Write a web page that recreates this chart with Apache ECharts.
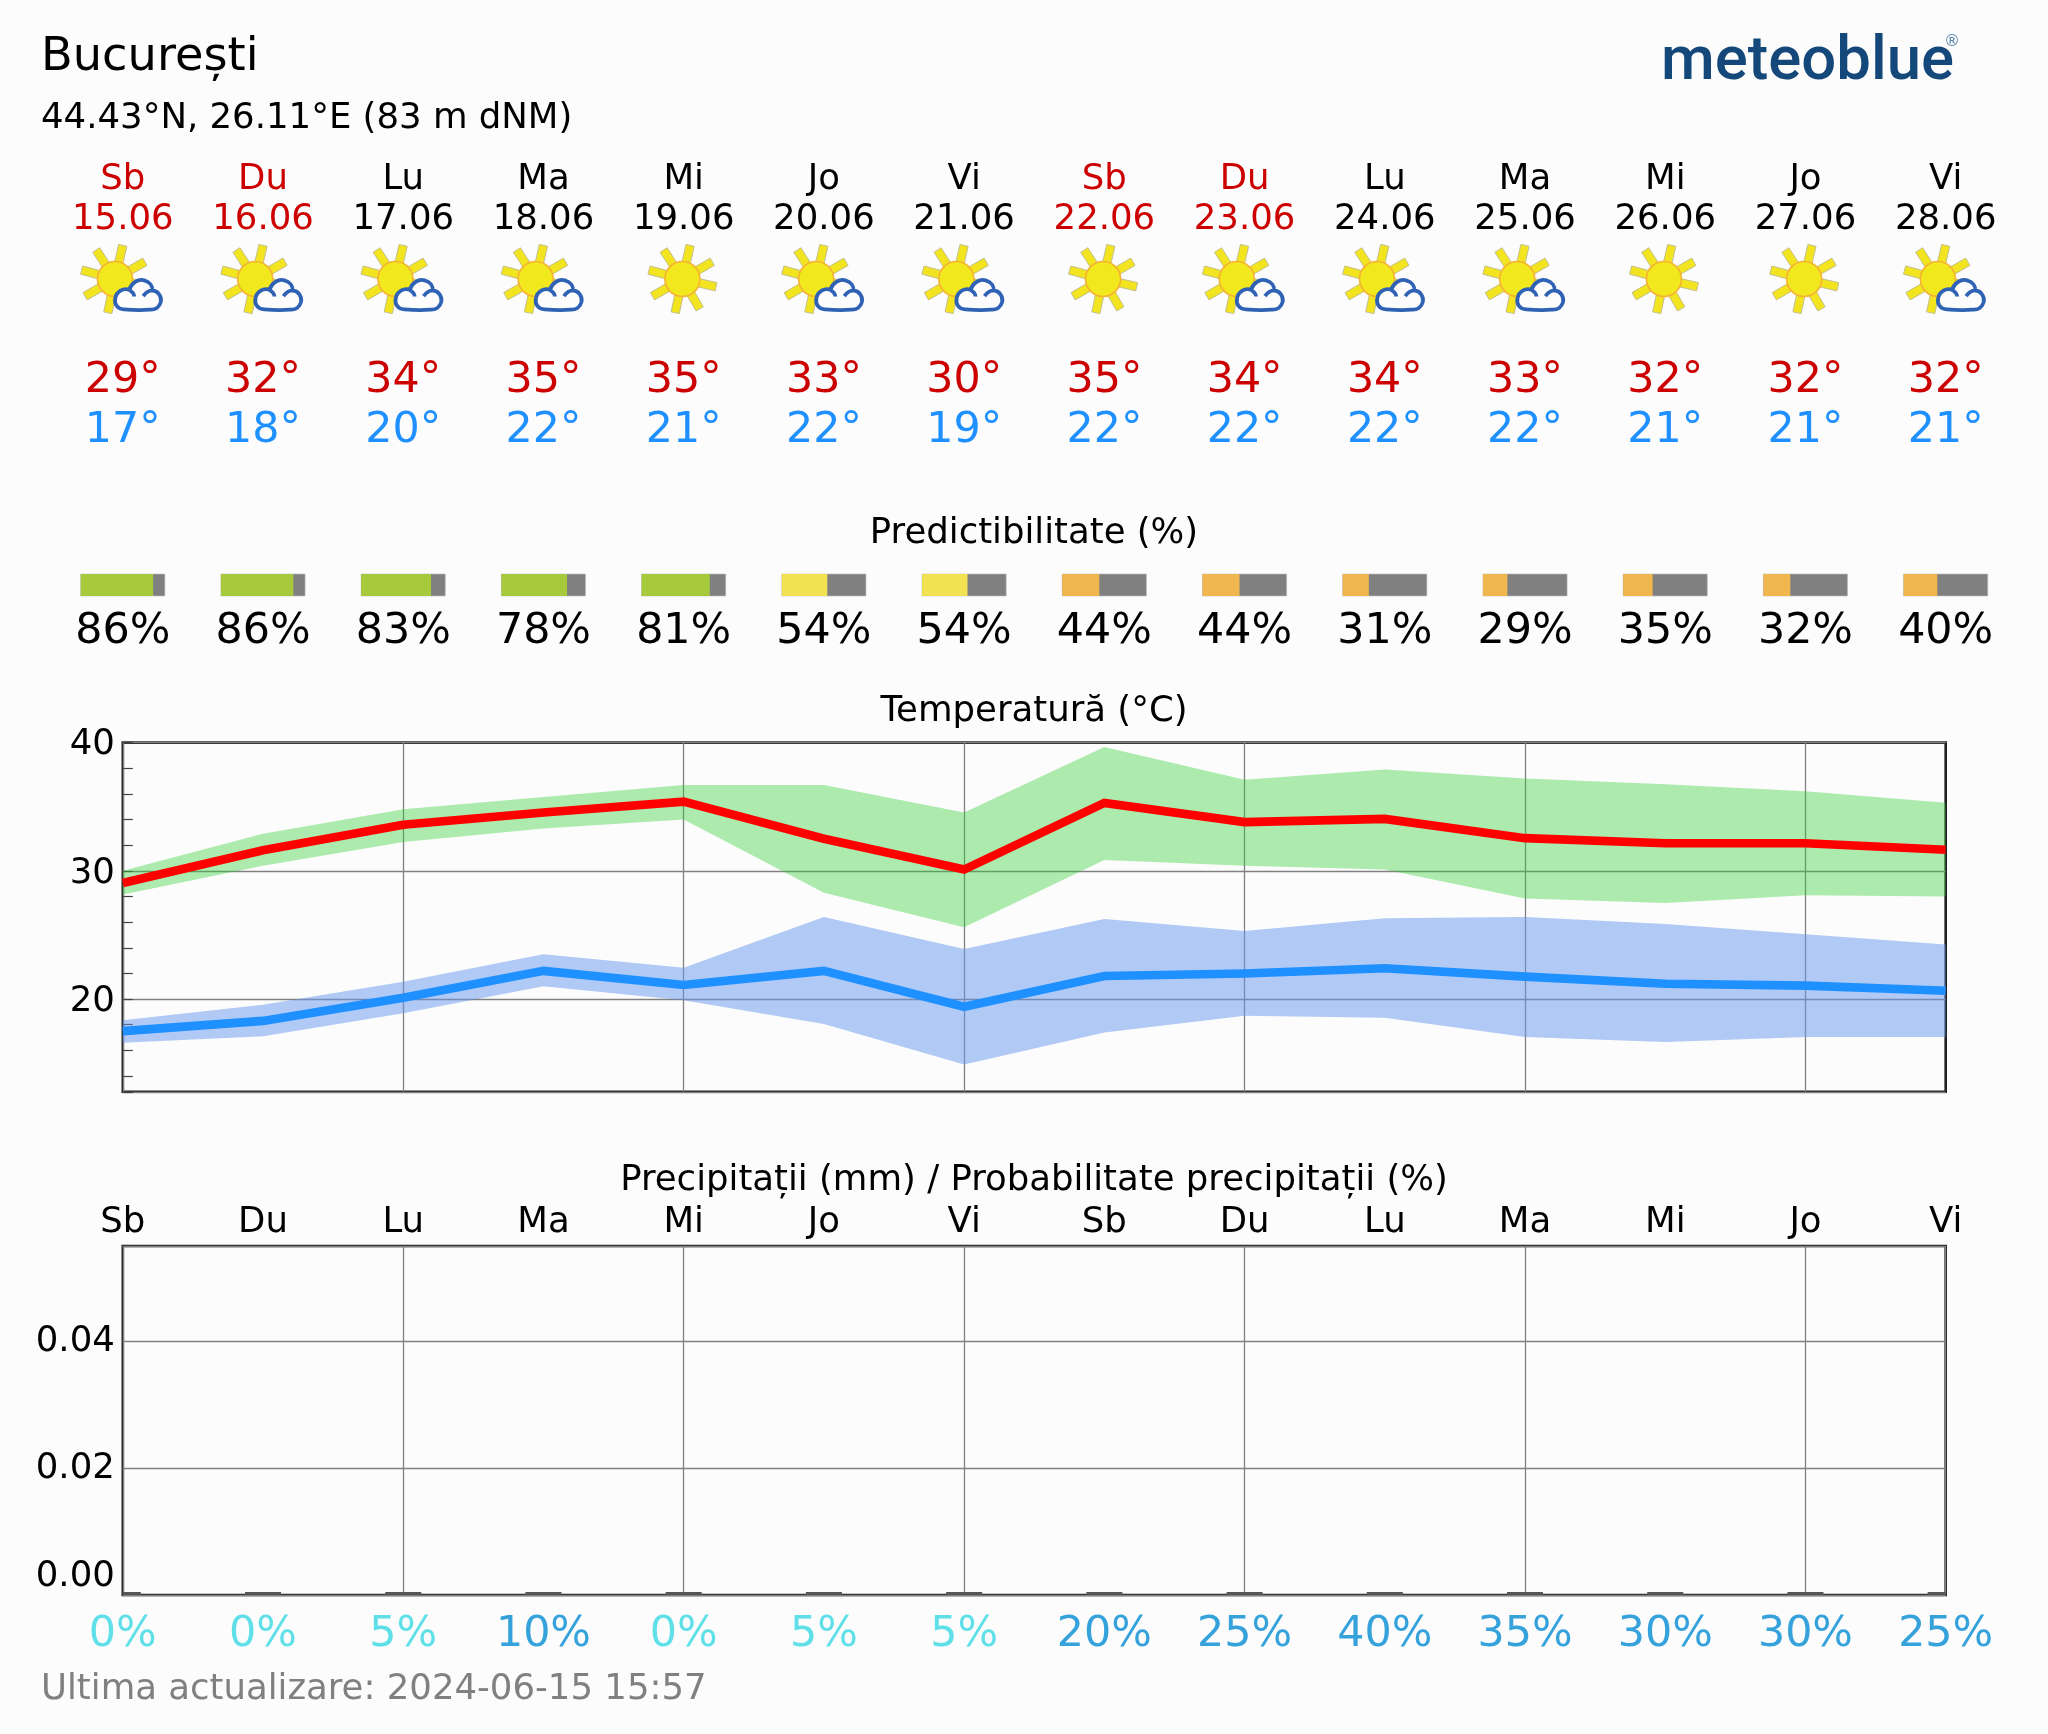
<!DOCTYPE html>
<html><head><meta charset="utf-8">
<style>html,body{margin:0;padding:0;background:#fcfcfc}#c{width:2048px;height:1734px}</style>
<script src="https://cdn.jsdelivr.net/npm/echarts@6/dist/echarts.min.js"></script>
</head><body><div id="c"></div>
<script>
// ---- data ----
const dayNames = ['Sb','Du','Lu','Ma','Mi','Jo','Vi','Sb','Du','Lu','Ma','Mi','Jo','Vi'];
const dates = ['15.06','16.06','17.06','18.06','19.06','20.06','21.06','22.06','23.06','24.06','25.06','26.06','27.06','28.06'];
const highs = [29,32,34,35,35,33,30,35,34,34,33,32,32,32];
const lows = [17,18,20,22,21,22,19,22,22,22,22,21,21,21];
const iconKinds = ['cloud','cloud','cloud','cloud','sun','cloud','cloud','sun','cloud','cloud','cloud','sun','sun','cloud'];
const predictability = [86,86,83,78,81,54,54,44,44,31,29,35,32,40];
const precipProb = [0,0,5,10,0,5,5,20,25,40,35,30,30,25];
const precip = [0,0,0,0,0,0,0,0,0,0,0,0,0,0];
const tMax = [29.05,31.6,33.6,34.55,35.4,32.5,30.1,35.3,33.8,34.05,32.55,32.15,32.15,31.65];
const tMaxUpper = [30.0,32.9,34.8,35.75,36.7,36.7,34.55,39.65,37.1,37.9,37.2,36.75,36.2,35.3];
const tMaxLower = [28.15,30.4,32.25,33.3,34.0,28.3,25.6,30.85,30.4,30.1,27.85,27.5,28.1,28.0];
const tMin = [17.5,18.3,20.1,22.2,21.1,22.2,19.4,21.8,22.0,22.4,21.75,21.2,21.05,20.65];
const tMinUpper = [18.35,19.55,21.35,23.5,22.45,26.4,23.9,26.25,25.3,26.3,26.4,25.85,25.05,24.25];
const tMinLower = [16.6,17.1,18.9,21.0,19.9,18.05,14.9,17.4,18.7,18.55,17.05,16.65,17.05,17.05];

// ---- layout / style ----
const FONT = '"DejaVu Sans"';
const L = 122.8, W = 1822.9;
const BG = '#fcfcfc', RED = '#cc0000', LOWBLUE = '#1e90ff';
const SMALL = 35.5, BIG = 42.8;
const weekend = i => dayNames[i] === 'Sb' || dayNames[i] === 'Du';
const predColor = p => p >= 70 ? '#a6ca3c' : p >= 50 ? '#f2e150' : '#f0b74e';
const probColor = p => p >= 10 ? '#36a2db' : '#5fdfe8';
const idx = dayNames.map((_, i) => i);

function textRow(name, texts, colorFn, y, size) {
  return {
    type: 'custom', name, xAxisIndex: 0, yAxisIndex: 0, silent: true, z: 5,
    data: texts.map((t, i) => [i, y]),
    renderItem(p, api) {
      const i = api.value(0), c = api.coord([i, api.value(1)]);
      return { type: 'text', style: { text: String(texts[i]), x: c[0], y: c[1], align: 'center', verticalAlign: 'middle',
        fontFamily: 'DejaVu Sans', fontSize: size, fill: colorFn(i) } };
    }
  };
}
const RAY_ANGLES = [13, 60, 103, 150, 192, 240, 285, 327];
const CLOUD = 'M192 267 C172 267 162 250 166 234 C170 214 190 203 208 209 C214 188 235 176 253 181 C271 186 279 199 277 211 C296 212 306 231 303 245 C299 261 286 269 270 268 C245 270 215 269 192 267 Z M208 209 C216 214 223 221 223 229 M277 211 C270 211 258 217 250 228';
function iconItem(p, api) {
  const i = api.value(0), c = api.coord([i, api.value(1)]);
  const kind = iconKinds[i];
  const cx = c[0] + (kind === 'sun' ? -1.3 : -7.8), cy = c[1];
  const children = [];
  RAY_ANGLES.forEach(a => {
    const r = a * Math.PI / 180, s = Math.sin(r), k = -Math.cos(r), w = 4.2;
    const pt = (d, o) => [cx + s * d + k * o * -1, cy + k * d + s * o];
    children.push({ type: 'polygon', shape: { points: [pt(14, -w), pt(34.5, -w), pt(34.5, w), pt(14, w)] },
      style: { fill: '#f2e41e', stroke: '#c4c08c', lineWidth: 1 } });
  });
  children.push({ type: 'circle', shape: { cx, cy, r: 17.5 }, style: { fill: '#f2e81e', stroke: '#f6b232', lineWidth: 1.6 } });
  if (kind === 'cloud') {
    children.push({ type: 'path', shape: { pathData: CLOUD, layout: 'cover', x: c[0] + (165 - 188.4) / 3, y: cy + (178 - 175) / 3, width: 138 / 3, height: 90 / 3 },
      style: { fill: BG, stroke: '#2f62b4', lineWidth: 3.8 } });
  }
  return { type: 'group', children };
}
function predBar(p, api) {
  const i = api.value(0), v = api.value(1), row = api.value(2);
  const a = api.coord([i - 0.3, row]), m = api.coord([i - 0.3 + 0.6 * v / 100, row]), b = api.coord([i + 0.3, row]);
  const h = 22;
  return { type: 'group', children: [
    { type: 'rect', shape: { x: a[0], y: a[1], width: b[0] - a[0], height: h }, style: { fill: '#808080', stroke: '#bdbdbd', lineWidth: 0.6 } },
    { type: 'rect', shape: { x: a[0], y: a[1], width: m[0] - a[0], height: h }, style: { fill: predColor(v) } }
  ] };
}
function precipBar(p, api) {
  const base = api.coord([api.value(0), api.value(1)]);
  const cs = p.coordSys;
  const x0 = Math.max(base[0] - 18, cs.x), x1 = Math.min(base[0] + 18, cs.x + cs.width);
  return { type: 'rect', shape: { x: x0, y: base[1] - 3, width: x1 - x0, height: 3 }, style: { fill: '#555' } };
}
function band(name, lower, upper, color, opacity, stack) {
  return [
    { type: 'line', name: name + ' lower', stack, xAxisIndex: 1, yAxisIndex: 1, data: lower, showSymbol: false, silent: true, lineStyle: { width: 0 } , z: 2},
    { type: 'line', name: name + ' range', stack, xAxisIndex: 1, yAxisIndex: 1, data: upper.map((u, i) => +(u - lower[i]).toFixed(2)), showSymbol: false, silent: true,
      lineStyle: { width: 0 }, areaStyle: { color, opacity }, z: 2 }
  ];
}
function mainLine(name, data, color) {
  return { type: 'line', name, xAxisIndex: 1, yAxisIndex: 1, data, showSymbol: false, silent: true, z: 3,
    lineStyle: { color, width: 8.6, join: 'miter', cap: 'butt' } };
}
const gridLine = { show: true, lineStyle: { color: '#808080', width: 1.3 } };
const evenDays = { show: true, interval: 1, lineStyle: { color: '#808080', width: 1.3 } };
const tickLabel = { fontFamily: FONT, fontSize: SMALL, color: '#000' };
const frame = { left: L, width: W, show: true, borderColor: '#1f1f1f', borderWidth: 2.6, backgroundColor: 'transparent' };
const ROW = { day: 179.6, date: 219.6, high: 380.6, low: 430.6, pred: 574, predPct: 631.6, prob: 1635, icon: 279 };

const option = {
  backgroundColor: BG,
  animation: false,
  textStyle: { fontFamily: FONT },
  grid: [
    { left: L, width: W, top: 0, height: 1734 },
    { ...frame, top: 742.6, height: 349.2 },
    { ...frame, top: 1246, height: 349 }
  ],
  xAxis: [
    { gridIndex: 0, type: 'value', min: 0, max: 13, interval: 1, show: false },
    { gridIndex: 1, type: 'category', data: dayNames, boundaryGap: false, axisLabel: { show: false }, axisTick: { show: false }, axisLine: { show: false }, splitLine: evenDays },
    { gridIndex: 2, type: 'category', data: dayNames, boundaryGap: false, position: 'top', axisLabel: { ...tickLabel, interval: 0, margin: 5.5 }, axisTick: { show: false }, axisLine: { show: false }, splitLine: evenDays }
  ],
  yAxis: [
    { gridIndex: 0, type: 'value', min: 0, max: 1734, inverse: true, show: false },
    { gridIndex: 1, type: 'value', min: 12.77, max: 40, minInterval: 10, maxInterval: 10, axisLine: { show: false }, axisTick: { show: false },
      axisLabel: { ...tickLabel, margin: 8, showMinLabel: false, verticalAlign: 'top', lineHeight: 5.2 }, splitLine: gridLine },
    { gridIndex: 2, type: 'value', min: 0, max: 0.0551, minInterval: 0.02, maxInterval: 0.02, axisLine: { show: false }, axisTick: { show: false },
      axisLabel: { ...tickLabel, margin: 8, showMaxLabel: false, verticalAlignMinLabel: 'bottom', formatter: v => v.toFixed(2) }, splitLine: gridLine },
    { gridIndex: 1, type: 'value', position: 'left', min: 12.77, max: 40, minInterval: 2, maxInterval: 2, axisLine: { show: false }, axisLabel: { show: false }, splitLine: { show: false },
      axisTick: { show: true, inside: true, length: 10, lineStyle: { color: '#444', width: 1.2 } } }
  ],
  graphic: [
    { type: 'text', left: 41, top: 35, style: { text: 'București', font: `46.3px ${FONT}`, fill: '#000' } },
    { type: 'text', left: 41, top: 100.5, style: { text: '44.43°N, 26.11°E (83 m dNM)', font: `${SMALL}px ${FONT}`, fill: '#000' } },
    { type: 'text', left: 41, top: 1672, style: { text: 'Ultima actualizare: 2024-06-15 15:57', font: `${SMALL}px ${FONT}`, fill: '#808080' } },
    { type: 'text', x: 1034, y: 533.6, style: { text: 'Predictibilitate (%)', align: 'center', verticalAlign: 'middle', font: `${SMALL}px ${FONT}`, fill: '#000' } },
    { type: 'text', x: 1034, y: 712, style: { text: 'Temperatură (°C)', align: 'center', verticalAlign: 'middle', font: `${SMALL}px ${FONT}`, fill: '#000' } },
    { type: 'text', x: 1034, y: 1180.6, style: { text: 'Precipitații (mm) / Probabilitate precipitații (%)', align: 'center', verticalAlign: 'middle', font: `${SMALL}px ${FONT}`, fill: '#000' } },
    { type: 'text', x: 1661, y: 32, scaleX: 0.995, style: { text: 'meteoblue', font: `500 62px Roboto`, fill: '#14487a' } },
    { type: 'text', x: 1944, y: 34, style: { text: '®', font: `16px ${FONT}`, fill: '#5b86ab' } }
  ],
  series: [
    textRow('day names', dayNames, i => weekend(i) ? RED : '#000', ROW.day, SMALL),
    textRow('dates', dates, i => weekend(i) ? RED : '#000', ROW.date, SMALL),
    textRow('highs', highs.map(v => v + '°'), () => RED, ROW.high, BIG),
    textRow('lows', lows.map(v => v + '°'), () => LOWBLUE, ROW.low, BIG),
    textRow('predictability pct', predictability.map(v => v + '%'), () => '#000', ROW.predPct, BIG),
    textRow('precip probability', precipProb.map(v => v + '%'), i => probColor(precipProb[i]), ROW.prob, BIG),
    { type: 'custom', name: 'icons', xAxisIndex: 0, yAxisIndex: 0, silent: true, z: 4, data: idx.map(i => [i, ROW.icon]), renderItem: iconItem },
    { type: 'custom', name: 'predictability', xAxisIndex: 0, yAxisIndex: 0, silent: true, z: 4, data: predictability.map((v, i) => [i, v, ROW.pred]), renderItem: predBar },
    ...band('tmax', tMaxLower, tMaxUpper, '#32cd32', 0.39, 'maxBand'),
    ...band('tmin', tMinLower, tMinUpper, '#6495ed', 0.5, 'minBand'),
    mainLine('max', tMax, '#ff0000'),
    mainLine('min', tMin, '#1e90ff'),
    { type: 'line', name: 'minor ticks', xAxisIndex: 1, yAxisIndex: 3, data: [], silent: true },
    { type: 'custom', name: 'precipitation', xAxisIndex: 2, yAxisIndex: 2, silent: true, data: precip.map((v, i) => [i, v]), renderItem: precipBar, encode: { x: 0, y: 1 } }
  ]
};
const chart = echarts.init(document.getElementById('c'), null, { renderer: 'canvas', width: 2048, height: 1734 });
chart.setOption(option);
</script></body></html>
